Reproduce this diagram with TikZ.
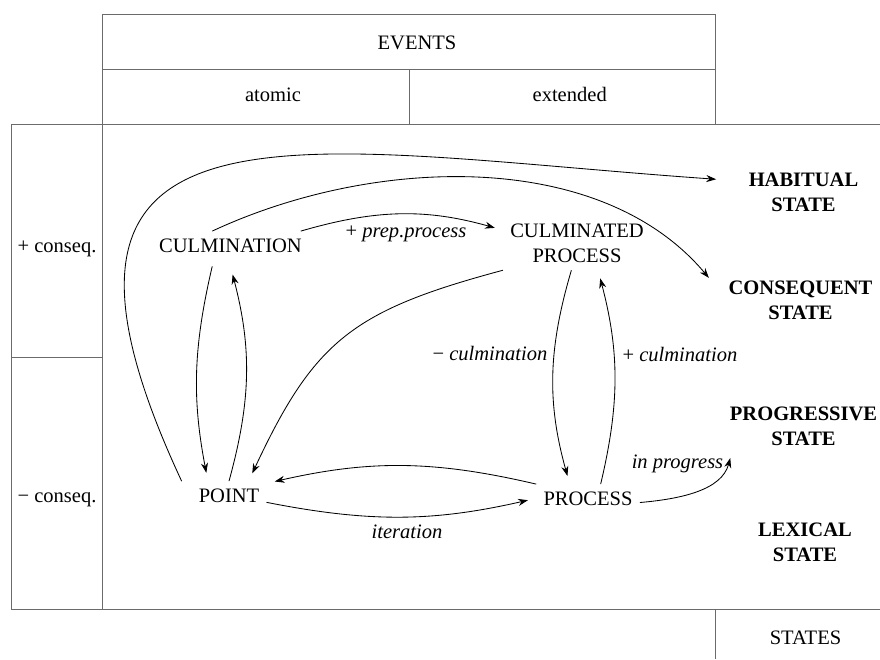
\documentclass[tikz,border=0pt]{standalone}
\usepackage{fontspec}
\setmainfont{Liberation Serif}
\usetikzlibrary{arrows.meta,positioning}
\definecolor{rulegray}{gray}{0.42}
\tikzset{every node/.style={font=\fontsize{14.6}{17.8}\selectfont},
  ev/.style={inner sep=5pt},
  st/.style={inner sep=5pt,align=center,font=\fontsize{14.6}{17.8}\selectfont\bfseries},
  hd/.style={inner sep=0pt,anchor=base},
  lab/.style={inner sep=0pt,anchor=base,font=\fontsize{14.6}{17.8}\selectfont\itshape},
  arr/.style={-{Stealth[length=7pt,width=5pt]},line width=0.6pt,shorten >=6pt},
  tabline/.style={rulegray,line width=0.7pt}}

\begin{document}
\begin{tikzpicture}[x=0.025cm,y=0.025cm]
    \useasboundingbox (0,0) rectangle (880,-659);
    % table frame
    \draw[tabline] (102,-609) -- (102,-14) -- (715,-14) -- (715,-124);
    \draw[tabline] (102,-69.3) -- (715,-69.3);
    \draw[tabline] (409.3,-69.3) -- (409.3,-124);
    \draw[tabline] (11,-124) -- (880,-124);
    \draw[tabline] (11,-124) -- (11,-609) -- (880,-609);
    \draw[tabline] (11,-357.3) -- (102,-357.3);
    \draw[tabline] (715,-609) -- (715,-659);

    \node[hd] (events) at (417,-49.3) {EVENTS};
    \node[hd] (atomic) at (273,-101) {atomic};
    \node[hd] (extended) at (569.7,-101) {extended};
    \node[hd] (plus) at (57,-252) {+ conseq.};
    \node[hd] (minus) at (57,-502) {− conseq.};
    \node[hd] (states) at (805.5,-644) {STATES};

    % event types
    \node[ev,anchor=base,text depth=5pt] (cul) at (230.5,-252) {CULMINATION};
    \node[ev,align=center] (cp) at (577,-243.5) {CULMINATED\\PROCESS};
    \node[ev,anchor=base] (pt) at (229,-502) {POINT};
    \node[ev,anchor=base] (pr) at (588,-505) {PROCESS};

    % states
    \node[st] (hs) at (803.5,-192.5) {HABITUAL\\STATE};
    \node[st] (cs) at (800.5,-300.5) {CONSEQUENT\\STATE};
    \node[st] (ps) at (803.5,-426) {PROGRESSIVE\\STATE};
    \node[st] (ls) at (805,-542.5) {LEXICAL\\STATE};

    \node[lab] (prep) at (406,-237) {{\upshape +} prep.process};
    \node[lab] (mculm) at (490,-360) {{\upshape −} culmination};
    \node[lab] (pculm) at (680,-361.5) {{\upshape +} culmination};
    \node[lab] (inprog) at (677.5,-468) {in progress};
    \node[lab] (iter) at (407,-538) {iteration};

    % transitions
    \draw[arr] ([xshift=50pt]cul.north) to [bend left=16] ([yshift=9.5pt]cp.west);
    \draw[arr] ([xshift=-13pt]cul.north)
        to [out=25,in=130,looseness=0.9] ([xshift=-5pt,yshift=-7.5pt]cs.north west);
    \draw[arr] ([xshift=-7pt]pt.north west)
        to [out=115,in=176,out looseness=1.85,in looseness=1.75] ([xshift=-12pt,yshift=9pt]hs.west);
    \draw[arr] ([xshift=-13pt]cul.south) to [bend right=12] ([xshift=-15pt]pt.north);
    \draw[arr] (pt.north) to [bend right=15] (cul.south);
    \draw[arr] (cp.south west) to [out=195,in=65,looseness=1.2] ([xshift=14pt]pt.north);
    \draw[arr] ([xshift=-4pt]cp.south) to [bend right=16] ([xshift=-13pt]pr.north);
    \draw[arr] ([xshift=9pt]pr.north) to [bend right=14] ([xshift=15pt]cp.south);
    \draw[arr] (pr.north west) to [bend right=13] ([yshift=8.5pt]pt.east);
    \draw[arr] ([yshift=-5pt]pt.east) to [bend right=12] (pr.west);
    \draw[arr] ([yshift=-3pt]pr.east) to [out=5,in=255] ([xshift=7pt,yshift=2pt]ps.south west);
\end{tikzpicture}
\end{document}
